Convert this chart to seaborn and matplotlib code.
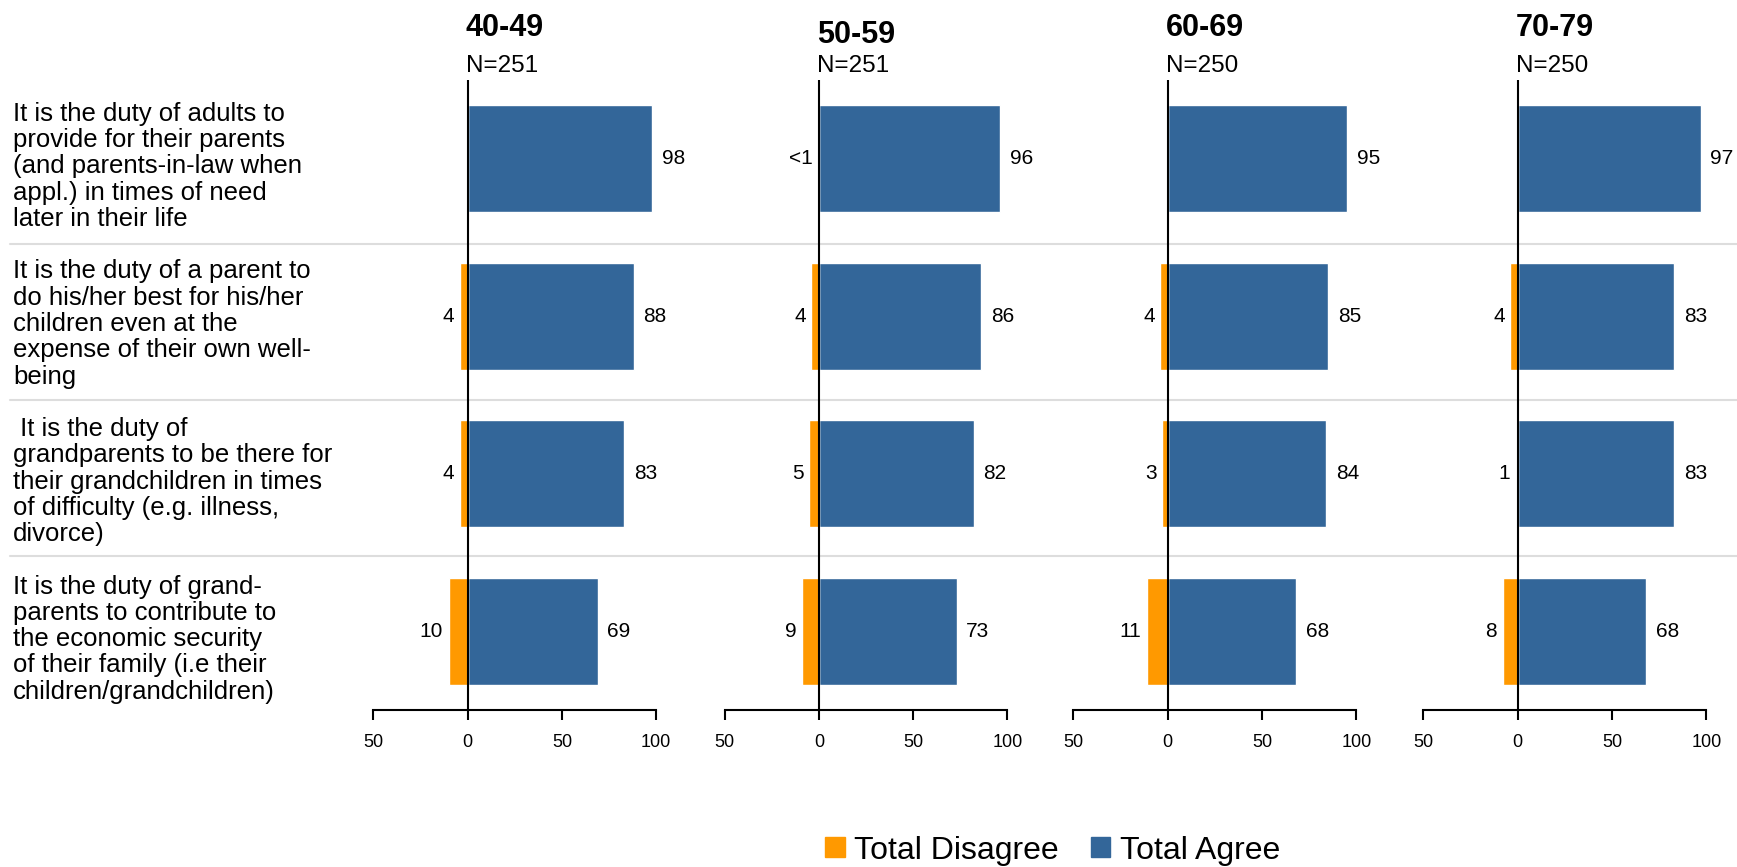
import numpy as np
import pandas as pd
import seaborn as sns
import matplotlib.pyplot as plt
from matplotlib.patches import Patch
from matplotlib.lines import Line2D
from matplotlib.transforms import blended_transform_factory

statements = [
    "It is the duty of adults to\nprovide for their parents\n(and parents-in-law when\nappl.) in times of need\nlater in their life",
    "It is the duty of a parent to\ndo his/her best for his/her\nchildren even at the\nexpense of their own well-\nbeing",
    " It is the duty of\ngrandparents to be there for\ntheir grandchildren in times\nof difficulty (e.g. illness,\ndivorce)",
    "It is the duty of grand-\nparents to contribute to\nthe economic security\nof their family (i.e their\nchildren/grandchildren)",
]
ages = ["40-49", "50-59", "60-69", "70-79"]
sample_sizes = ["N=251", "N=251", "N=250", "N=250"]
agree = [[98, 88, 83, 69], [96, 86, 82, 73], [95, 85, 84, 68], [97, 83, 83, 68]]
disagree = [[0, 4, 4, 10], [0.5, 4, 5, 9], [0, 4, 3, 11], [0, 4, 1, 8]]
disagree_labels = [["", "4", "4", "10"], ["<1", "4", "5", "9"], ["", "4", "3", "11"], ["", "4", "1", "8"]]

blue = "#336699"
orange = "#FF9900"

sns.set_style("white")
plt.rcParams["font.family"] = ["Liberation Sans", "DejaVu Sans"]
plt.rcParams["text.color"] = "black"
plt.rcParams["xtick.color"] = "black"
plt.rcParams["axes.labelcolor"] = "black"

fig = plt.figure(figsize=(17.37, 8.67), dpi=100)
lefts = [0.2149, 0.4171, 0.618, 0.8195]
title_y = [1.069, 1.059, 1.069, 1.069]
axes = []
for k, age in enumerate(ages):
    ax = fig.add_axes([lefts[k], 0.181, 0.1629, 0.727])
    ax.set_facecolor("none")
    df = pd.DataFrame({"item": [str(i) for i in range(4)],
                       "agree": agree[k],
                       "disagree": [-v for v in disagree[k]]})
    order = [str(i) for i in range(4)]
    sns.barplot(data=df, x="agree", y="item", order=order, orient="h",
                color=blue, width=0.68, errorbar=None, ax=ax, saturation=1)
    sns.barplot(data=df, x="disagree", y="item", order=order, orient="h",
                color=orange, width=0.68, errorbar=None, ax=ax, saturation=1)
    ax.axvline(0, color="black", lw=1.5, zorder=5)
    ax.set_xlim(-50, 100)
    ax.set_ylim(3.5, -0.5)
    ax.set_xticks([-50, 0, 50, 100])
    ax.set_xticklabels(["50", "0", "50", "100"], fontsize=13)
    ax.set_yticks([])
    ax.set_xlabel("")
    ax.set_ylabel("")
    for s in ["left", "right", "top"]:
        ax.spines[s].set_visible(False)
    ax.spines["bottom"].set_color("black")
    ax.spines["bottom"].set_linewidth(1.5)
    ax.tick_params(axis="x", bottom=True, direction="out", length=7, width=1.5,
                   color="black", labelcolor="black", pad=10)
    for i in range(4):
        ax.annotate(str(agree[k][i]), (agree[k][i], i), xytext=(7, 0), textcoords="offset points",
                    ha="left", va="center", fontsize=15)
        if disagree_labels[k][i]:
            ax.annotate(disagree_labels[k][i], (-disagree[k][i], i), xytext=(-4, 0),
                        textcoords="offset points", ha="right", va="center", fontsize=15)
    tr = blended_transform_factory(ax.transData, ax.transAxes)
    ax.text(-1, title_y[k], age, transform=tr, fontsize=22, fontweight="bold", ha="left", va="baseline")
    ax.text(-1, 1.0127, sample_sizes[k], transform=tr, fontsize=17.5, ha="left", va="baseline")
    axes.append(ax)

# statement labels and row separators
tr_rows = blended_transform_factory(fig.transFigure, axes[0].transData)
for i, s in enumerate(statements):
    fig.text(0.0075, i + 0.05, s, transform=tr_rows, ha="left", va="center",
             fontsize=18.5, linespacing=1.12)
for y in [0.54, 1.53, 2.52]:
    fig.add_artist(Line2D([0.006, 1.0], [y, y], transform=tr_rows, color="#DDDDDD",
                          lw=1.5, zorder=-1))

handles = [Patch(color=orange, label="Total Disagree"), Patch(color=blue, label="Total Agree")]
fig.legend(handles=handles, loc="center", bbox_to_anchor=(0.606, 0.019), ncol=2, frameon=False,
           fontsize=23, handlelength=0.6, handleheight=0.6, handletextpad=0.3, columnspacing=1.0)

plt.savefig("out.png", dpi=100)
plt.close()
